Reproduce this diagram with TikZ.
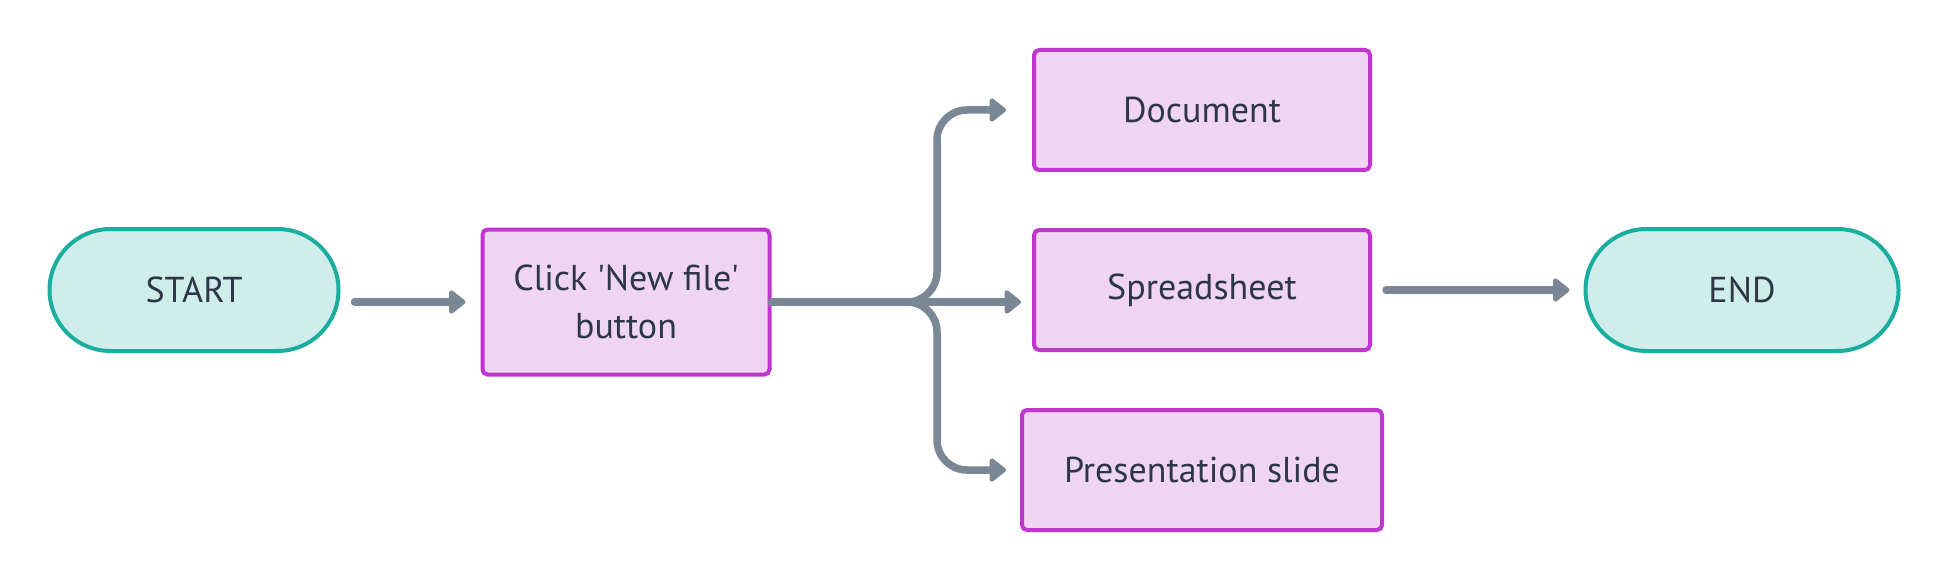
\documentclass[tikz,border=0pt]{standalone}
\usepackage{fontspec}
\newfontfamily\dfont{PT Sans}
\usetikzlibrary{arrows.meta}
\definecolor{tealline}{RGB}{27,174,159}
\definecolor{tealfill}{RGB}{207,237,235}
\definecolor{purpline}{RGB}{192,52,208}
\definecolor{purpfill}{RGB}{240,212,243}
\definecolor{arrowgray}{RGB}{122,135,148}
\definecolor{txt}{RGB}{45,55,72}
\begin{document}
\begin{tikzpicture}[x=1pt,y=-1pt,
  lbl/.style={text=txt, font=\dfont\fontsize{36}{48}\selectfont, inner sep=0pt},
  term/.style={lbl, draw=tealline, fill=tealfill, line width=4pt, rounded corners=61pt,
    minimum width=289pt, minimum height=122pt},
  proc/.style={lbl, draw=purpline, fill=purpfill, line width=4pt, rounded corners=5pt,
    align=center, minimum width=336pt, minimum height=120pt},
  conn/.style={draw=arrowgray, line width=7.5pt, line cap=round,
    -{Triangle[length=18pt,width=27pt,round]}}]
\useasboundingbox (0,0) rectangle (1948,580);
\node[term] (start) at (194,290) {START};
\node[proc, minimum width=287pt, minimum height=145pt] (click) at (626,302) {Click 'New file'\\button};
\node[proc] (doc) at (1202,110) {Document};
\node[proc] (sheet) at (1202,290) {Spreadsheet};
\node[proc, minimum width=360pt] (pres) at (1202,470) {Presentation slide};
\node[term, minimum width=313pt] (end) at (1742,290) {END};
\coordinate (j) at (937,302);
\draw[conn, shorten <=14pt, shorten >=15pt] (start.east |- click.west) -- (click.west);
\draw[conn, rounded corners=30pt, shorten >=26pt] (click.east) -- (j) |- (doc.west);
\draw[conn, shorten >=11pt] (click.east) -- (sheet.west |- click.east);
\draw[conn, rounded corners=30pt, shorten >=14pt] (click.east) -- (j) |- (pres.west);
\draw[conn, shorten <=14pt, shorten >=14pt] (sheet.east) -- (end.west);
\end{tikzpicture}
\end{document}
